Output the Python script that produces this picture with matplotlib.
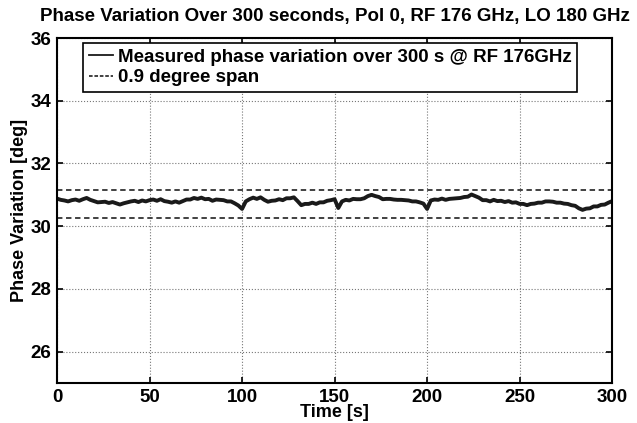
import numpy as np
import matplotlib
matplotlib.use("Agg")
import matplotlib.pyplot as plt

plt.rcParams["font.family"] = ["Liberation Sans", "DejaVu Sans"]
plt.rcParams["font.weight"] = "bold"

# ---------------------------------------------
# DATA (one value every 2 s)
# ---------------------------------------------
t_step = 2
phase = [
    30.88, 30.84, 30.82, 30.79, 30.83, 30.85, 30.81, 30.86, 30.90, 30.84,
    30.80, 30.76, 30.77, 30.78, 30.74, 30.77, 30.73, 30.69, 30.73, 30.76,
    30.79, 30.81, 30.77, 30.82, 30.79, 30.83, 30.85, 30.81, 30.86, 30.80,
    30.78, 30.75, 30.79, 30.75, 30.80, 30.85, 30.85, 30.90, 30.87, 30.91,
    30.86, 30.87, 30.81, 30.85, 30.84, 30.83, 30.79, 30.79, 30.73, 30.66,
    30.55, 30.79, 30.86, 30.91, 30.87, 30.92, 30.84, 30.78, 30.81, 30.82,
    30.86, 30.83, 30.89, 30.89, 30.92, 30.80, 30.67, 30.71, 30.71, 30.75,
    30.71, 30.76, 30.76, 30.81, 30.83, 30.86, 30.58, 30.79, 30.84, 30.82,
    30.87, 30.86, 30.86, 30.89, 30.96, 31.00, 30.96, 30.93, 30.86, 30.87,
    30.87, 30.85, 30.84, 30.84, 30.83, 30.82, 30.79, 30.79, 30.76, 30.72,
    30.55, 30.82, 30.85, 30.84, 30.88, 30.84, 30.87, 30.88, 30.89, 30.90,
    30.93, 30.94, 31.01, 30.96, 30.91, 30.83, 30.83, 30.79, 30.84, 30.80,
    30.81, 30.77, 30.80, 30.75, 30.76, 30.71, 30.71, 30.67, 30.71, 30.72,
    30.75, 30.75, 30.79, 30.79, 30.78, 30.75, 30.75, 30.72, 30.71, 30.67,
    30.65, 30.57, 30.52, 30.56, 30.57, 30.63, 30.63, 30.68, 30.69, 30.75,
    30.80,
]
time = np.arange(len(phase)) * t_step

span_low = 30.25
span_high = 31.15

x_ticks = [0, 50, 100, 150, 200, 250, 300]
y_ticks = [26, 28, 30, 32, 34, 36]

# ---------------------------------------------
# PLOT
# ---------------------------------------------
fig = plt.figure(figsize=(6.37, 4.23), dpi=100)
ax = fig.add_axes([0.0895, 0.0946, 0.8715, 0.8155])

ax.plot(time, phase, color="#1a1a1a", linewidth=2.8,
        label="Measured phase variation over 300 s @ RF 176GHz")
ax.axhline(span_high, color="#333333", linewidth=1.3, linestyle=(0, (3, 2)),
           label="0.9 degree span")
ax.axhline(span_low, color="#333333", linewidth=1.3, linestyle=(0, (3, 2)))

ax.set_xlim(0, 300)
ax.set_ylim(25, 36)
ax.set_xticks(x_ticks)
ax.set_yticks(y_ticks)
ax.tick_params(direction="in", top=True, right=True, length=4, width=1.2,
               labelsize=13.5, pad=4)
for lbl in ax.get_xticklabels() + ax.get_yticklabels():
    lbl.set_fontweight("bold")
for s in ax.spines.values():
    s.set_linewidth(1.5)
ax.grid(True, linestyle=":", color="#777777", linewidth=0.8)

ax.set_xlabel("Time [s]", fontsize=13, fontweight="bold", labelpad=-1)
ax.set_ylabel("Phase Variation [deg]", fontsize=13, fontweight="bold", labelpad=2)
ax.set_title("Phase Variation Over 300 seconds, Pol 0, RF 176 GHz, LO 180 GHz",
             fontsize=13.5, fontweight="bold", pad=12)

leg = ax.legend(loc="upper left", bbox_to_anchor=(0.047, 0.986), borderaxespad=0,
                fancybox=False, edgecolor="black", framealpha=1,
                handlelength=1.3, handletextpad=0.25, borderpad=0.3,
                labelspacing=0.2, prop={"size": 13.5, "weight": "bold"})
leg.get_frame().set_linewidth(1.2)
leg.get_lines()[0].set_linewidth(1.3)
leg.get_lines()[1].set_linestyle((0, (2, 1)))

fig.savefig("out.png", dpi=100)
